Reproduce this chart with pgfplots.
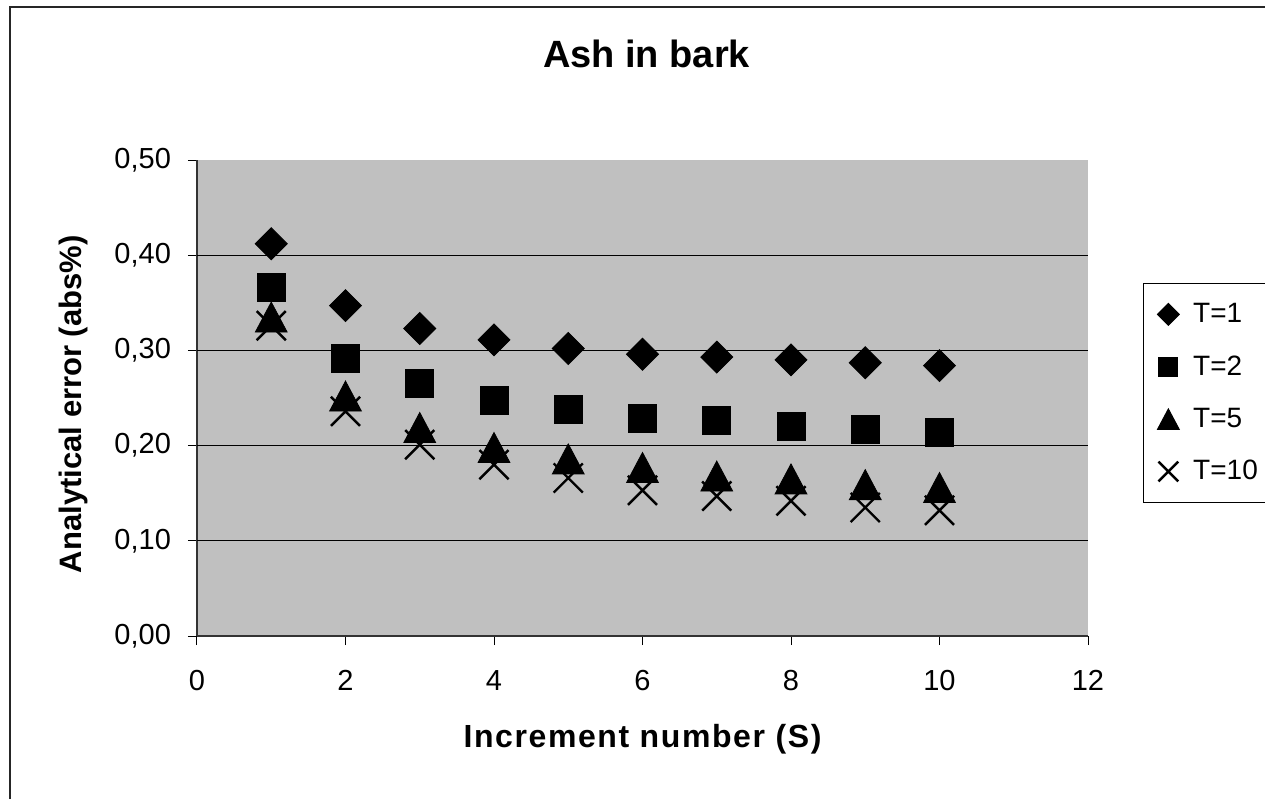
\documentclass[border=0pt]{standalone}
\usepackage{fontspec}
\setmainfont{Liberation Sans}
\usepackage{pgfplots}
\pgfplotsset{compat=1.18}

\definecolor{plotgray}{HTML}{C0C0C0}

% Excel-like marks, centred on their bounding box
\pgfdeclareplotmark{xldiamond}{%
  \pgfpathmoveto{\pgfqpoint{0pt}{\pgfplotmarksize}}%
  \pgfpathlineto{\pgfqpoint{\pgfplotmarksize}{0pt}}%
  \pgfpathlineto{\pgfqpoint{0pt}{-\pgfplotmarksize}}%
  \pgfpathlineto{\pgfqpoint{-\pgfplotmarksize}{0pt}}%
  \pgfpathclose
  \pgfusepathqfillstroke}
\pgfdeclareplotmark{xltriangle}{%
  \pgfpathmoveto{\pgfqpoint{0pt}{\pgfplotmarksize}}%
  \pgfpathlineto{\pgfqpoint{1.06\pgfplotmarksize}{-\pgfplotmarksize}}%
  \pgfpathlineto{\pgfqpoint{-1.06\pgfplotmarksize}{-\pgfplotmarksize}}%
  \pgfpathclose
  \pgfusepathqfillstroke}

\pgfplotsset{
  xlmark/.style={only marks, black,
    legend image code/.code={\draw[##1, every mark/.append style={scale=0.68}] plot coordinates {(0cm,0cm)};}},
}

\begin{document}
\begin{tikzpicture}
\path (0,0) rectangle (632.5pt,399.5pt);
\draw[line width=1pt, black!85] (4.75pt,0) -- (4.75pt,395.75pt) -- (632.5pt,395.75pt);

\begin{axis}[
    at={(98.5pt,81.5pt)}, anchor=south west,
    scale only axis,
    width=445.5pt, height=238pt,
    xmin=0, xmax=12, ymin=0, ymax=0.5,
    xtick={0,2,4,6,8,10,12},
    ytick={0,0.1,0.2,0.3,0.4,0.5},
    extra y ticks={0.1,0.2,0.3,0.4},
    extra y tick labels={},
    extra y tick style={major tick length=0pt, ymajorgrids=true, major grid style={black, line width=0.5pt}},
    axis lines=left,
    axis line style={-, black!80, line width=0.75pt},
    tick style={black, line width=0.5pt},
    major tick length=4.5pt,
    tick align=outside,
    axis background/.style={fill=plotgray},
    /pgf/number format/assume math mode=true,
    ticklabel style={font=\fontsize{14.5}{16}\selectfont},
    yticklabel style={xshift=-5pt,
      /pgf/number format/fixed, /pgf/number format/fixed zerofill,
      /pgf/number format/precision=2, /pgf/number format/use comma},
    xticklabel style={yshift=-9pt},
    title={Ash in bark},
    every axis title/.style={at={(axis description cs:0.5,1)}, anchor=base, yshift=46.2pt, xshift=2pt,
                 font=\bfseries\fontsize{19}{21}\selectfont},
    xlabel={\addfontfeatures{LetterSpace=5}Increment number (S)},
    xlabel style={at={(axis description cs:0.5,-0.2164)}, anchor=center,
                  font=\bfseries\fontsize{16}{18}\selectfont},
    ylabel={Analytical error (abs\%)},
    ylabel style={at={(axis description cs:-0.1385,0.487)}, anchor=center,
                  font=\bfseries\fontsize{15.5}{17}\selectfont},
    legend style={at={(axis description cs:1.0617,0.5105)}, anchor=west,
                  draw=black, line width=0.5pt, fill=white,
                  font=\fontsize{14}{16}\selectfont,
                  row sep=11pt, inner xsep=7pt, inner ysep=8pt,
                  /tikz/every odd column/.append style={column sep=5pt}},
    legend cell align=left,
]
\addplot[xlmark, mark=xldiamond, mark size=8pt] coordinates {
  (1,0.412) (2,0.347) (3,0.323) (4,0.311) (5,0.302)
  (6,0.296) (7,0.293) (8,0.290) (9,0.287) (10,0.284)
};
\addlegendentry{T=1}
\addplot[xlmark, mark=square*, mark size=7pt] coordinates {
  (1,0.366) (2,0.292) (3,0.265) (4,0.247) (5,0.238)
  (6,0.229) (7,0.226) (8,0.220) (9,0.217) (10,0.214)
};
\addlegendentry{T=2}
\addplot[xlmark, mark=xltriangle, mark size=7.5pt] coordinates {
  (1,0.335) (2,0.252) (3,0.219) (4,0.198) (5,0.186)
  (6,0.177) (7,0.168) (8,0.165) (9,0.159) (10,0.156)
};
\addlegendentry{T=5}
\addplot[xlmark, mark=x, mark size=10.3pt, mark options={line width=1.2pt}] coordinates {
  (1,0.326) (2,0.236) (3,0.201) (4,0.180) (5,0.166)
  (6,0.153) (7,0.147) (8,0.142) (9,0.135) (10,0.132)
};
\addlegendentry{T=10}
\end{axis}
\pgfresetboundingbox
\useasboundingbox (0,0) rectangle (632.5pt,399.5pt);
\end{tikzpicture}
\end{document}
